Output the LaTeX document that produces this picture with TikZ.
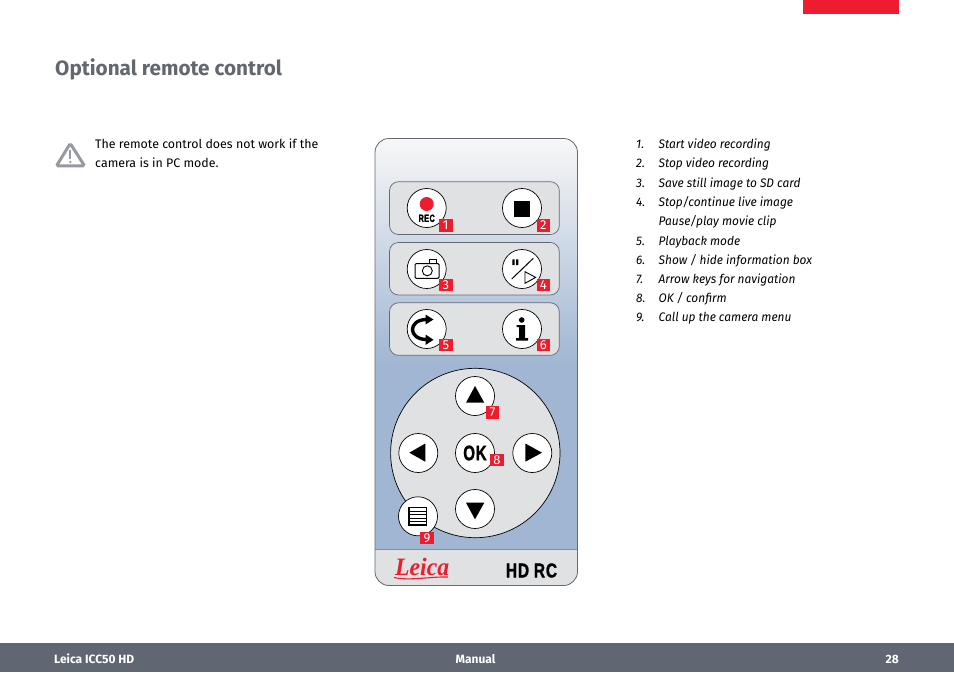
\documentclass[tikz,border=0pt]{standalone}
\usepackage{fontspec}
\setmainfont{Fira Sans}
\newfontfamily\logofont{Liberation Serif}
\newfontfamily\keyfont[LetterSpace=5,BoldFont={Liberation Sans Bold},BoldFeatures={FakeBold=1.5}]{Liberation Sans}
\definecolor{leicared}{RGB}{237,28,46}
\definecolor{footgrey}{RGB}{96,103,115}
\definecolor{titlegrey}{RGB}{98,103,112}
\definecolor{panelgrey}{RGB}{224,225,227}
\definecolor{edgegrey}{RGB}{100,106,116}
\definecolor{bodyblue}{RGB}{160,182,210}
\definecolor{warngrey}{RGB}{150,154,160}
\tikzset{
 panel/.style={draw=edgegrey,fill=panelgrey,line width=0.7pt,rounded corners=9pt},
 btn/.style={circle,draw=black,fill=white,line width=0.7pt,minimum size=39pt,inner sep=0pt},
 badge/.style={fill=leicared,text=white,minimum width=13.5pt,minimum height=12.5pt,inner sep=0pt,font=\fontsize{13}{13}\selectfont},
 bodytext/.style={anchor=base west,inner sep=0pt,font=\fontsize{12.4}{16}\selectfont,text=black},
 listtext/.style={anchor=base west,inner sep=0pt,xscale=0.96,font=\fontsize{12.4}{16}\selectfont\itshape,text=black},
 foottext/.style={inner sep=0pt,text=white,font=\fontsize{12}{13}\selectfont\bfseries},
 keytext/.style={inner sep=0pt,font=\keyfont\bfseries}
}
\begin{document}
\begin{tikzpicture}[x=1pt,y=-1pt]
 \useasboundingbox (0,0) rectangle (954,673);
 \fill[white] (0,0) rectangle (954,673);
 \fill[leicared] (803,0) rectangle (899,14);
 \node[anchor=base west,inner sep=0pt,text=titlegrey,font=\fontsize{20.7}{24}\selectfont\bfseries] (title) at (55,75) {Optional remote control};
 \draw[warngrey,line width=3pt,rounded corners=1.5pt] (70.3,143.5) -- (56.5,165.8) -- (84.5,165.8) -- cycle;
 \draw[warngrey,line width=2pt] (70.3,150) -- (70.3,159);
 \fill[warngrey] (70.3,162) circle(1.3pt);
 \node[bodytext] (warn1) at (95,148) {The remote control does not work if the};
 \node[bodytext] (warn2) at (95,167) {camera is in PC mode.};
 \foreach \n/\y/\t in {1./148/{Start video recording},2./167/{Stop video recording},3./187/{Save still image to SD card},4./206/{Stop/continue live image},5./245/{Playback mode},6./264/{Show / hide information box},7./283/{Arrow keys for navigation},8./302/{OK / confirm},9./321/{Call up the camera menu}}
 {
  \node[listtext] at (636,\y) {\n};
  \node[listtext] at (658.5,\y) {\t};
 }
 \node[listtext] (pause) at (658.5,225) {Pause/play movie clip};
 \begin{scope}
  \clip[rounded corners=14pt] (375,138.5) rectangle (577.5,585.5);
  \fill[bodyblue] (375,138) rectangle (578,586);
  \shade[top color=black!3,bottom color=bodyblue] (375,138) rectangle (578,365);
  \fill[panelgrey] (375,549) rectangle (578,586);
  \draw[black!45,line width=1pt] (375,549.5) -- (578,549.5);
 \end{scope}
 \draw[edgegrey,line width=0.8pt,rounded corners=14pt] (375,138.5) rectangle (577.5,585.5);
 \draw[panel] (389.5,181.7) rectangle (559.3,234.5);
 \draw[panel] (389.5,242.5) rectangle (559.3,295);
 \draw[panel] (389.5,302.8) rectangle (559.3,355.3);
 \draw[fill=panelgrey,line width=0.7pt] (475.3,453) circle(84.7pt);
 \node[btn] (rec) at (426.7,208) {};
 \node[btn] (stop) at (522,208) {};
 \node[btn] (photo) at (426.7,269) {};
 \node[btn] (live) at (522,269) {};
 \node[btn] (playback) at (426.7,329) {};
 \node[btn] (info) at (522,329) {};
 \node[btn] (up) at (475,396) {};
 \node[btn] (left) at (418.3,453) {};
 \node[btn] (ok) at (475,453) {};
 \node[btn] (right) at (532.3,453) {};
 \node[btn] (down) at (475,509) {};
 \node[btn] (menu) at (418,516.3) {};
 \fill[leicared] (426.7,204) circle(7pt);
 \node[keytext,font=\keyfont\bfseries\fontsize{10.5}{11}\selectfont,xscale=0.7] (rectext) at (426.7,218.3) {REC};
 \fill[black] (514,200.7) rectangle (530,216.7);
 \draw[line width=1pt,rounded corners=1.2pt] (415,263.5) rectangle (439,278.3);
 \draw[line width=0.9pt] (429.5,263.5) -- (429.5,259.5) -- (436.5,259.5) -- (436.5,263.5);
 \draw[line width=0.9pt] (427.3,270.8) circle(5pt);
 \draw[line width=1pt] (511.7,279) -- (533.3,258.3);
 \fill[black] (512.3,259.3) rectangle (514.6,265) (516,259.3) rectangle (518.3,265);
 \draw[line width=0.9pt] (525,271.7) -- (535.7,277.4) -- (525,283.3) -- cycle;
 \draw[line width=3.4pt] (426,319.5) .. controls (408,320) and (408,339) .. (426,339.5);
 \fill[black] (425.5,314.5) -- (433.5,319.5) -- (425.5,324.5) -- cycle;
 \fill[black] (425.5,334.5) -- (433.5,339.8) -- (425.5,345) -- cycle;
 \fill[black] (521.7,320) circle(2.8pt);
 \fill[black] (516.5,325) -- (525,325) -- (525,338) -- (528,338) -- (528,340.5) -- (516,340.5) -- (516,338) -- (519,338) -- (519,327) -- (516.5,327) -- cycle;
 \fill[black] (466,402.7) -- (484.3,402.7) -- (475,386) -- cycle;
 \fill[black] (425.3,443.5) -- (425.3,461.7) -- (409.3,452.7) -- cycle;
 \fill[black] (525.3,443.5) -- (525.3,461.7) -- (542,452.7) -- cycle;
 \fill[black] (466,502.7) -- (484.3,502.7) -- (475,519.3) -- cycle;
 \node[keytext,font=\keyfont\bfseries\fontsize{21}{22}\selectfont,xscale=0.72] (oktext) at (475,453) {OK};
 \draw[line width=1.1pt] (409,507.5) rectangle (426.7,525);
 \foreach \y in {511,514.5,518,521.5}
 {
  \draw[line width=0.7pt] (409,\y) -- (426.7,\y);
 }
 \foreach \x/\y/\n in {445.8/225.3/1,543.3/225.3/2,445.8/285/3,543.3/285/4,445.8/345/5,543.3/345/6,492.5/412.7/7,497/460/8,427/538/9}
 {
  \node[badge] (badge\n) at (\x,\y) {\n};
 }
 \node[anchor=base west,inner sep=0pt,text=leicared,font=\logofont\bfseries\itshape\fontsize{25}{26}\selectfont,xscale=0.95] (logo) at (395,575) {Leica};
 \draw[leicared,line width=1.1pt] (394,577.5) .. controls (410,581) and (430,576.5) .. (448,577);
 \node[keytext,font=\keyfont\bfseries\fontsize{20}{20}\selectfont,xscale=0.78] (model) at (531.5,570.5) {HD\hspace{0.3em}RC};
 \fill[footgrey] (0,643) rectangle (954,672);
 \node[foottext,anchor=base west] (foot1) at (54,663) {Leica ICC50 HD};
 \node[foottext,anchor=base] (foot2) at (475.5,663) {Manual};
 \node[foottext,anchor=base east] (foot3) at (899,663) {28};
\end{tikzpicture}
\end{document}
